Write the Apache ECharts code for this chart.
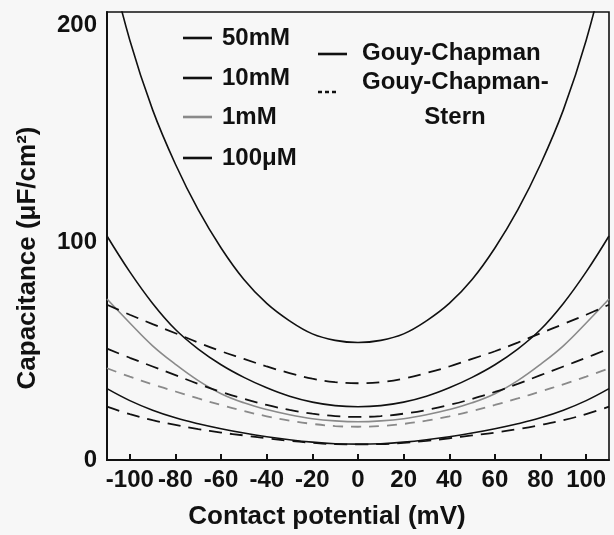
<!DOCTYPE html>
<html>
<head>
<meta charset="utf-8">
<script src="https://cdn.jsdelivr.net/npm/echarts@6/dist/echarts.min.js"></script>
<style>
html, body { margin: 0; padding: 0; background: #f7f7f7; }
#chart { width: 614px; height: 535px; }
</style>
</head>
<body>
<div id="chart"></div>
<script>
// contact potential (mV)
var potential = [-110, -100, -90, -80, -70, -60, -50, -40, -30, -20, -10, 0, 10, 20, 30, 40, 50, 60, 70, 80, 90, 100, 110];

// Gouy-Chapman (solid)
var gc50mM  = [234, 193, 161, 136, 115, 97.5, 83, 72, 64, 58, 55, 54, 55, 58, 64, 72, 83, 97.5, 115, 136, 161, 193, 234];
var gc10mM  = [103, 86.5, 72, 60, 51, 43.8, 38, 33.2, 29.3, 26.6, 25, 24.5, 25, 26.6, 29.3, 33.2, 38, 43.8, 51, 60, 72, 86.5, 103];
var gc1mM   = [74, 63, 52.5, 44, 36.5, 30.5, 26.3, 23.2, 20.8, 19, 18, 17.6, 18, 19, 20.8, 23.2, 26.3, 30.5, 36.5, 44, 52.5, 63, 74];
var gc100uM = [32.8, 27.3, 22.9, 19.4, 16.7, 14.4, 12.4, 10.7, 9.3, 8.2, 7.5, 7.3, 7.5, 8.2, 9.3, 10.7, 12.4, 14.4, 16.7, 19.4, 22.9, 27.3, 32.8];

// Gouy-Chapman-Stern (dashed)
var gcs50mM  = [71.4, 66.8, 62.5, 58.3, 54, 50, 46.5, 43, 40, 37.4, 35.8, 35.3, 35.8, 37.4, 40, 43, 46.5, 50, 54, 58.3, 62.5, 66.8, 71.4];
var gcs10mM  = [51.2, 47, 43, 39, 35, 31.3, 28.1, 25.3, 23, 21.3, 20.2, 19.8, 20.2, 21.3, 23, 25.3, 28.1, 31.3, 35, 39, 43, 47, 51.2];
var gcs1mM   = [42.2, 38.3, 34.8, 31.5, 28.3, 25.3, 22.5, 20.1, 18.1, 16.6, 15.6, 15.3, 15.6, 16.6, 18.1, 20.1, 22.5, 25.3, 28.3, 31.5, 34.8, 38.3, 42.2];
var gcs100uM = [24.5, 21.1, 18.3, 16.1, 14.2, 12.6, 11.3, 10, 8.8, 7.9, 7.3, 7.2, 7.3, 7.9, 8.8, 10, 11.3, 12.6, 14.2, 16.1, 18.3, 21.1, 24.5];

var concentrations = ['50mM', '10mM', '1mM', '100\u03bcM'];
var xTicks = [-100, -80, -60, -40, -20, 0, 20, 40, 60, 80, 100];
var yTicks = [0, 100, 200];

var BLACK = '#111';
var GRAY = '#8a8a8a';
var FONT = 'bold 24px "Liberation Sans", Arial, sans-serif';

function pairs(ys) {
	return potential.map(function(x, i) { return [x, ys[i]]; });
}

function makeSeries(name, ys, color, dashed) {
	return {
		name: name,
		type: 'line',
		data: pairs(ys),
		smooth: 0.4,
		symbol: 'none',
		silent: true,
		lineStyle: {
			color: color,
			width: dashed ? 1.8 : 1.6,
			type: dashed ? (color === GRAY ? [10, 8] : [13, 8]) : 'solid'
		}
	};
}

var myChart = echarts.init(document.getElementById('chart'));

// legend drawn by hand: two columns
var legendItems = [];
var legendColors = [BLACK, BLACK, GRAY, BLACK];
var legendY = [38, 78, 117, 158];
concentrations.forEach(function(c, i) {
	legendItems.push({
		type: 'line',
		shape: { x1: 183, y1: legendY[i], x2: 212, y2: legendY[i] },
		style: { stroke: legendColors[i], lineWidth: 2.6 }
	});
	legendItems.push({
		type: 'text',
		x: 222, y: legendY[i],
		style: { text: c, font: FONT, fill: BLACK, verticalAlign: 'middle' }
	});
});
legendItems.push({
	type: 'line',
	shape: { x1: 318, y1: 54, x2: 347, y2: 54 },
	style: { stroke: BLACK, lineWidth: 2.6 }
});
legendItems.push({
	type: 'text', x: 362, y: 53,
	style: { text: 'Gouy-Chapman', font: FONT, fill: BLACK, verticalAlign: 'middle' }
});
legendItems.push({
	type: 'line',
	shape: { x1: 318, y1: 92, x2: 336, y2: 92 },
	style: { stroke: BLACK, lineWidth: 2.4, lineDash: [4, 3] }
});
legendItems.push({
	type: 'text', x: 362, y: 82,
	style: { text: 'Gouy-Chapman-', font: FONT, fill: BLACK, verticalAlign: 'middle' }
});
legendItems.push({
	type: 'text', x: 455, y: 117,
	style: { text: 'Stern', font: FONT, fill: BLACK, align: 'center', verticalAlign: 'middle' }
});

var option = {
	backgroundColor: '#f7f7f7',
	animation: false,
	grid: {
		left: 107, right: 5, top: 12, bottom: 75,
		show: true,
		borderColor: BLACK,
		borderWidth: 1.6,
		backgroundColor: 'transparent'
	},
	xAxis: {
		type: 'value',
		min: -110,
		max: 110,
		name: 'Contact potential (mV)',
		nameLocation: 'middle',
		nameGap: 44,
		nameTextStyle: { fontSize: 26, fontWeight: 'bold', color: BLACK, fontFamily: 'Liberation Sans', padding: [0, 62, 0, 0] },
		axisLine: { show: true, onZero: false, lineStyle: { color: BLACK, width: 2 } },
		axisTick: { show: true, inside: true, length: 6, customValues: xTicks, lineStyle: { color: BLACK, width: 2 } },
		axisLabel: { customValues: xTicks, fontSize: 24, fontWeight: 'bold', color: BLACK, fontFamily: 'Liberation Sans', margin: 8 },
		splitLine: { show: false }
	},
	yAxis: {
		type: 'value',
		min: 0,
		max: 206,
		name: 'Capacitance (\u03bcF/cm\u00b2)',
		nameLocation: 'middle',
		nameGap: 66,
		nameTextStyle: { fontSize: 26, fontWeight: 'bold', color: BLACK, fontFamily: 'Liberation Sans', padding: [0, 44, 0, 0] },
		axisLine: { show: true, onZero: false, lineStyle: { color: BLACK, width: 2 } },
		axisTick: { show: false },
		axisLabel: { customValues: yTicks, fontSize: 24, fontWeight: 'bold', color: BLACK, fontFamily: 'Liberation Sans', margin: 10 },
		splitLine: { show: false }
	},
	graphic: legendItems,
	series: [
		makeSeries('50mM', gc50mM, BLACK, false),
		makeSeries('10mM', gc10mM, BLACK, false),
		makeSeries('1mM', gc1mM, GRAY, false),
		makeSeries('100\u03bcM', gc100uM, BLACK, false),
		makeSeries('50mM GCS', gcs50mM, BLACK, true),
		makeSeries('10mM GCS', gcs10mM, BLACK, true),
		makeSeries('1mM GCS', gcs1mM, GRAY, true),
		makeSeries('100\u03bcM GCS', gcs100uM, BLACK, true)
	]
};

myChart.setOption(option);
</script>
</body>
</html>
